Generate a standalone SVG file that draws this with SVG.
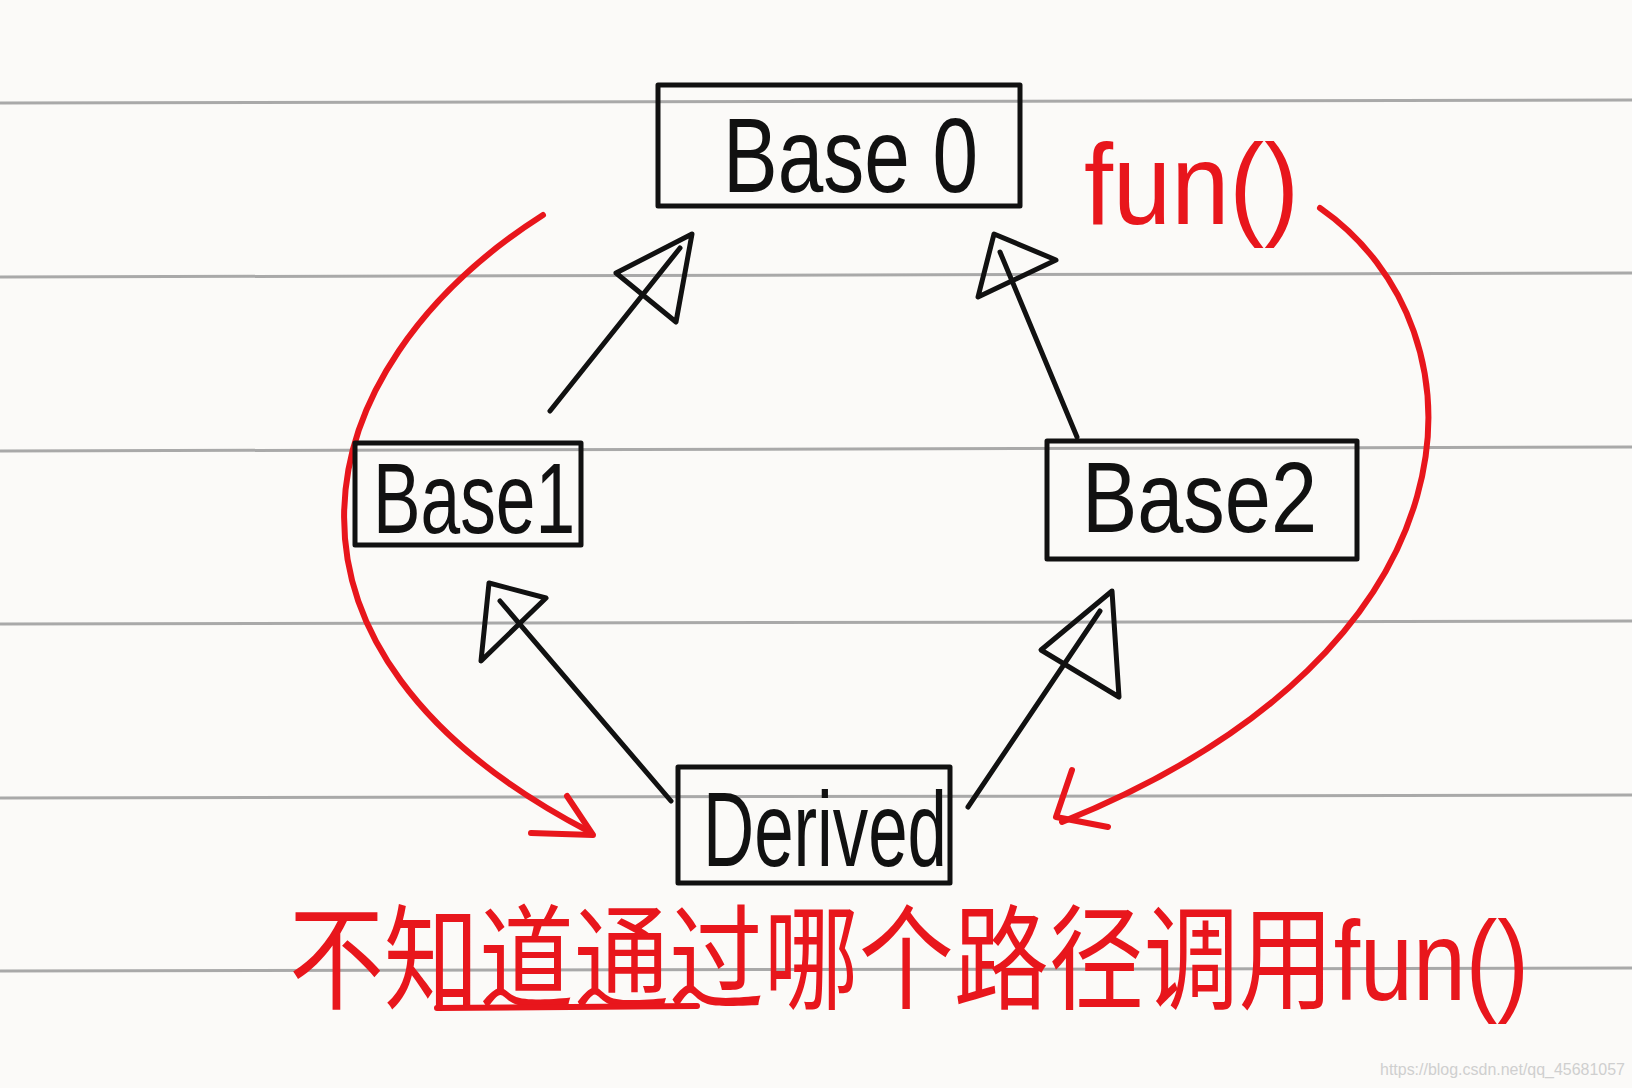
<svg xmlns="http://www.w3.org/2000/svg" width="1632" height="1088" viewBox="0 0 1632 1088">
<style>
.rule{stroke:#a9a9a9;stroke-width:3;fill:none}
.box{fill:none;stroke:#111;stroke-width:5;stroke-linejoin:round}
.lbl{font-family:"Liberation Sans",Arial,sans-serif;fill:#111}
.inh{stroke:#111;stroke-width:5;fill:none;stroke-linecap:round;stroke-linejoin:round}
.red{stroke:#e8161c;stroke-width:6;fill:none;stroke-linecap:round;stroke-linejoin:round}
.redt{fill:#e8161c}
</style>
<rect width="1632" height="1088" fill="#fbfaf8"/>
<g id="rules">
<line class="rule" x1="0" y1="103" x2="1632" y2="100"/>
<line class="rule" x1="0" y1="277" x2="1632" y2="273"/>
<line class="rule" x1="0" y1="451" x2="1632" y2="447"/>
<line class="rule" x1="0" y1="624" x2="1632" y2="621"/>
<line class="rule" x1="0" y1="798" x2="1632" y2="795"/>
<line class="rule" x1="0" y1="971" x2="1632" y2="968"/>
</g>
<g id="connectors">
<path class="inh" d="M550,411 L680,248"/>
<path class="inh" d="M692,234 L616,273 L676,322 Z"/>
<path class="inh" d="M1077,437 L1000,252"/>
<path class="inh" d="M994,234 L978,297 L1056,260 Z"/>
<path class="inh" d="M671,801 L500,601"/>
<path class="inh" d="M489,583 L481,661 L546,598 Z"/>
<path class="inh" d="M968,807 L1100,611"/>
<path class="inh" d="M1112,591 L1041,650 L1119,697 Z"/>
<path class="red" d="M543,215 C300,370 240,650 590,832"/>
<path class="red" d="M531,833 L593,835 L567,796"/>
<path class="red" d="M1320,208 C1495,330 1490,650 1062,822"/>
<path class="red" d="M1072,770 L1056,817 L1108,827"/>
</g>
<g id="base0">
<rect class="box" x="658" y="85" width="362" height="121"/>
<text class="lbl" x="723" y="192" font-size="105" textLength="255" lengthAdjust="spacingAndGlyphs">Base 0</text>
</g>
<g id="base1">
<rect class="box" x="355" y="443" width="226" height="102"/>
<text class="lbl" x="373" y="533" font-size="100" textLength="202" lengthAdjust="spacingAndGlyphs">Base1</text>
</g>
<g id="base2">
<rect class="box" x="1047" y="441" width="310" height="118"/>
<text class="lbl" x="1082" y="532" font-size="100" textLength="235" lengthAdjust="spacingAndGlyphs">Base2</text>
</g>
<g id="derived">
<rect class="box" x="678" y="767" width="272" height="116"/>
<text class="lbl" x="703" y="866" font-size="105" textLength="244" lengthAdjust="spacingAndGlyphs">Derived</text>
</g>
<g id="fun-label">
<text class="redt" x="1084" y="224" font-family="Liberation Sans,Arial,sans-serif" font-size="115" textLength="215" lengthAdjust="spacingAndGlyphs">fun()</text>
</g>
<g id="note">
<text class="redt" x="289" y="1000" font-family="Liberation Sans,'Noto Sans CJK SC',sans-serif" font-size="114" textLength="1240" lengthAdjust="spacingAndGlyphs">不知道通过哪个路径调用fun()</text>
<line class="red" x1="437" y1="1008" x2="697" y2="1006"/>
</g>
<text x="1380" y="1075" font-family="Liberation Sans,Arial,sans-serif" font-size="17" fill="#cfcfcf" textLength="245" lengthAdjust="spacingAndGlyphs">https://blog.csdn.net/qq_45681057</text>
</svg>
